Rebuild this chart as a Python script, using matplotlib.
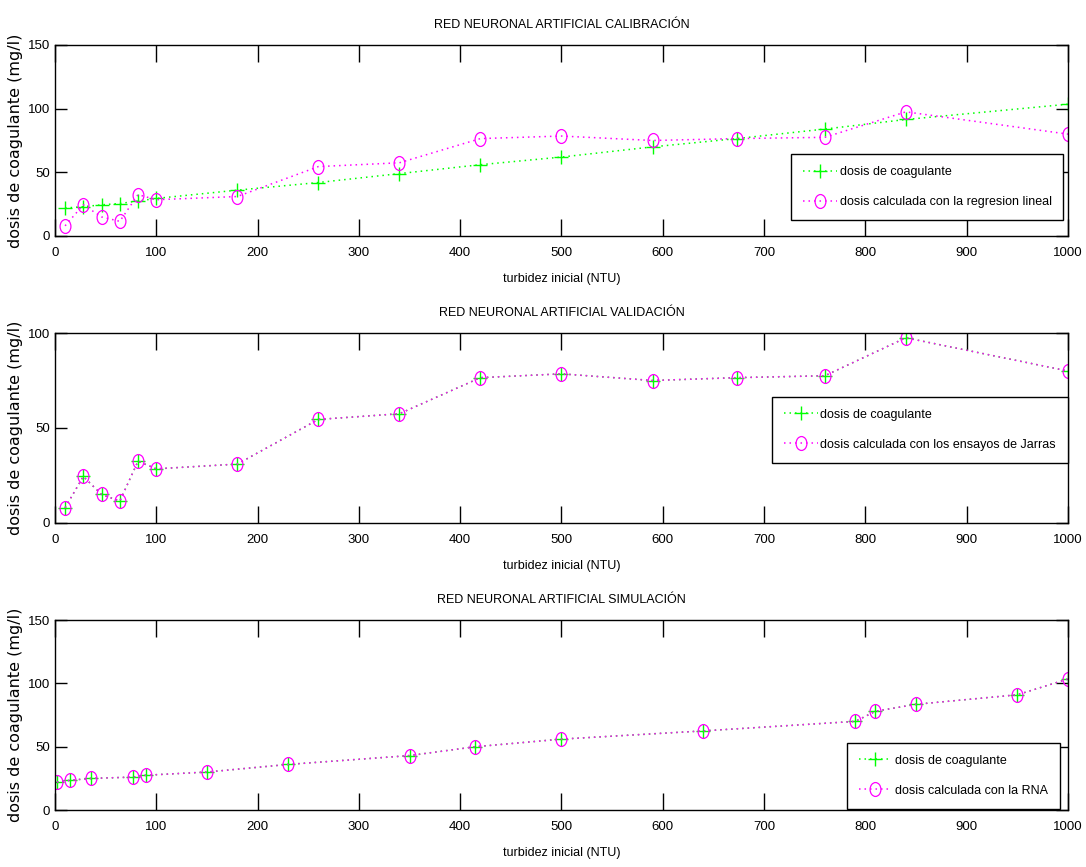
import matplotlib
matplotlib.use("Agg")
import matplotlib.pyplot as plt
from matplotlib.path import Path
from matplotlib.transforms import Affine2D

# calibration data
turbidez_cal = [10, 28, 46, 64, 82, 100, 180, 260, 340, 420, 500, 590, 673, 760, 840, 1000]
dosis_regresion = [22, 23, 24.5, 25.5, 27.5, 29.5, 36, 42, 49, 56, 62, 70, 76.5, 84, 91.5, 103.5]
dosis_jarras = [8, 24.5, 15, 11.5, 32.5, 28.5, 31, 54.5, 57.5, 76.5, 78.5, 75, 76.5, 77.5, 97.5, 80]

# simulation data
turbidez_sim = [2, 15, 36, 77, 90, 150, 230, 350, 415, 500, 640, 790, 810, 850, 950, 1000]
dosis_rna = [22, 23.5, 25, 26, 27.5, 30, 36, 43, 50, 56, 62.5, 70, 78, 83.5, 91, 103.5]

plt.rcParams['font.family'] = ['Liberation Sans', 'DejaVu Sans']

# slightly squashed circle marker
ovalo = Path.unit_circle().transformed(Affine2D().scale(0.78, 1.0))
punteado = (0, (1, 2.6))

fig = plt.figure(figsize=(10.86, 8.67), dpi=100)

def panel(rect, x1, y1, x2, y2, titulo, etiqueta, ymax, yticks, leg_pos):
    ax = fig.add_axes(rect)
    alto = rect[3] * 867
    ax.plot(x1, y1, color=(0, 1, 0), ls=punteado, lw=1.1, marker='+', ms=9.5, mew=1.0,
            label='dosis de coagulante')
    ax.plot(x2, y2, color=(1, 0, 1), ls=punteado, lw=1.1, marker=ovalo, ms=10, mew=0.9,
            mfc='none', label=etiqueta)
    ax.set_xlim(0, 1000)
    ax.set_ylim(0, ymax)
    ax.set_xticks(range(0, 1001, 100))
    ax.set_yticks(yticks)
    ax.tick_params(axis='x', direction='in', top=True, length=12, width=1, labelsize=9.5, pad=8)
    ax.tick_params(axis='y', direction='in', right=True, length=8.5, width=1, labelsize=9.5, pad=3.6)
    for s in ax.spines.values():
        s.set_linewidth(1)
    ax.set_title(titulo, fontsize=9, pad=12)
    ax.set_xlabel('turbidez inicial (NTU)', fontsize=9)
    ax.xaxis.set_label_coords(0.5, -37 / alto)
    ax.set_ylabel('dosis de coagulante (mg/l)', fontsize=11.5, family='DejaVu Sans')
    ax.yaxis.set_label_coords(-0.0316, 0.5)
    leg = ax.legend(loc='upper left', bbox_to_anchor=leg_pos, borderaxespad=0,
                    fontsize=9, numpoints=1, fancybox=False, framealpha=1,
                    edgecolor='black', handlelength=2.7, handletextpad=0.2,
                    borderpad=0.95, labelspacing=1.45)
    leg.get_frame().set_linewidth(1)
    return ax

panel([0.0506, 0.7278, 0.9328, 0.2203], turbidez_cal, dosis_regresion, turbidez_cal, dosis_jarras,
      'RED NEURONAL ARTIFICIAL CALIBRACIÓN', 'dosis calculada con la regresion lineal',
      150, [0, 50, 100, 150], (0.727, 0.429))
panel([0.0506, 0.3968, 0.9328, 0.2191], turbidez_cal, dosis_jarras, turbidez_cal, dosis_jarras,
      'RED NEURONAL ARTIFICIAL VALIDACIÓN', 'dosis calculada con los ensayos de Jarras',
      100, [0, 50, 100], (0.708, 0.665))
panel([0.0506, 0.0657, 0.9328, 0.2191], turbidez_sim, dosis_rna, turbidez_sim, dosis_rna,
      'RED NEURONAL ARTIFICIAL SIMULACIÓN', 'dosis calculada con la RNA',
      150, [0, 50, 100, 150], (0.7815, 0.354))

fig.savefig('out.png', dpi=100)
